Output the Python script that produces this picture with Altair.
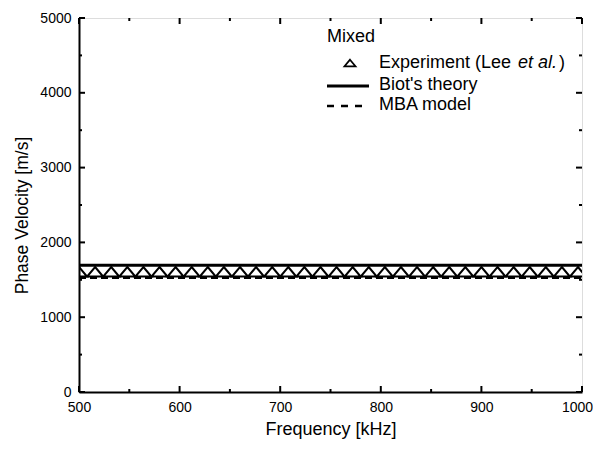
import altair as alt
import pandas as pd

# ---- data ----
exp_freq = [500, 516, 532, 548, 564, 580, 596, 612, 628, 644, 660, 676, 692, 708, 724, 740,
            756, 772, 788, 804, 820, 836, 852, 868, 884, 900, 916, 932, 948, 964, 980, 996]
exp_vel = [1607] * 32
biot_freq = [500, 1000]
biot_vel = [1693, 1693]
mba_freq = [500, 1000]
mba_vel = [1530, 1530]

x_major = [500, 600, 700, 800, 900, 1000]
x_minor = [550, 650, 750, 850, 950]
y_major = [0, 1000, 2000, 3000, 4000, 5000]
y_minor = [500, 1500, 2500, 3500, 4500]

W, H = 503, 374
FONT = "Liberation Sans"
TRI = "M0,-0.6L1,0.6L-1,0.6Z"

xs = alt.Scale(domain=[500, 1000], nice=False, zero=False)
ys = alt.Scale(domain=[0, 5000], nice=False)

x_axis = alt.Axis(title="Frequency [kHz]", values=x_major, format="d", ticks=False, grid=False,
                  labelFlush=False, labelFontSize=14, labelPadding=8, titleFontSize=18, titlePadding=6,
                  labelOffset=alt.ExprRef(expr="datum.value == 1000 ? -5 : 0"),
                  titleFontWeight="normal", labelFont=FONT, titleFont=FONT,
                  domainColor="black", domainWidth=2, labelColor="black", titleColor="black")
y_axis = alt.Axis(title="Phase Velocity [m/s]", values=y_major, format="d", ticks=False, grid=False,
                  labelFlush=False, labelFontSize=14, labelPadding=8, titleFontSize=17.5, titlePadding=8,
                  titleY=197,
                  titleFontWeight="normal", labelFont=FONT, titleFont=FONT,
                  domainColor="black", domainWidth=2, labelColor="black", titleColor="black")

biot = alt.Chart(pd.DataFrame({"f": biot_freq, "v": biot_vel})).mark_line(
    color="black", strokeWidth=3).encode(
    x=alt.X("f:Q", scale=xs, axis=x_axis),
    y=alt.Y("v:Q", scale=ys, axis=y_axis))

mba = alt.Chart(pd.DataFrame({"f": mba_freq, "v": mba_vel})).mark_line(
    color="black", strokeWidth=3, strokeDash=[7, 4]).encode(
    x=alt.X("f:Q", scale=xs), y=alt.Y("v:Q", scale=ys))

exp = alt.Chart(pd.DataFrame({"f": exp_freq, "v": exp_vel})).mark_point(
    shape=TRI, size=256, filled=False, color="black", strokeWidth=2, opacity=1, clip=True).encode(
    x=alt.X("f:Q", scale=xs), y=alt.Y("v:Q", scale=ys))

# inward ticks on all four sides
def yticks(vals, xpos, length):
    return alt.Chart(pd.DataFrame({"tv": vals})).mark_tick(
        color="black", thickness=2, size=length, opacity=1).encode(
        y=alt.Y("tv:Q", scale=ys), x=alt.value(xpos))

def xticks(vals, ypos, length):
    return alt.Chart(pd.DataFrame({"tf": vals})).mark_tick(
        color="black", thickness=2, size=length, opacity=1).encode(
        x=alt.X("tf:Q", scale=xs), y=alt.value(ypos))

ticks = [
    yticks(y_major, 3, 6), yticks(y_minor, 1.5, 3),
    yticks(y_major, W - 3, 6), yticks(y_minor, W - 1.5, 3),
    xticks(x_major, H - 3, 6), xticks(x_minor, H - 1.5, 3),
    xticks(x_major, 3, 6), xticks(x_minor, 1.5, 3),
]

# manual legend
def label(txt, x, y, size=18, style="normal", align="left"):
    return alt.Chart(pd.DataFrame({"t": [txt]})).mark_text(
        font=FONT, fontSize=size, fontStyle=style, align=align, baseline="middle", color="black").encode(
        x=alt.value(x), y=alt.value(y), text="t:N")

leg_tri = alt.Chart(pd.DataFrame({"t": ["tri"]})).mark_point(
    shape=TRI, size=120, filled=False, color="black", strokeWidth=1.8, opacity=1).encode(
    x=alt.value(271), y=alt.value(45))
leg_biot = alt.Chart(pd.DataFrame({"t": ["b"]})).mark_rule(color="black", strokeWidth=3).encode(
    x=alt.value(248), x2=alt.value(290), y=alt.value(68))
leg_mba = alt.Chart(pd.DataFrame({"t": ["m"]})).mark_rule(
    color="black", strokeWidth=2.5, strokeDash=[7, 7]).encode(
    x=alt.value(248), x2=alt.value(290), y=alt.value(88))

legend = [
    label("Mixed", 248, 19),
    leg_tri,
    label("Experiment (Lee", 300, 45),
    label("et al.", 439, 45, style="italic"),
    label(")", 480, 45),
    leg_biot,
    label("Biot's theory", 300, 67),
    leg_mba,
    label("MBA model", 300, 87),
]

chart = alt.layer(biot, mba, exp, *ticks, *legend).properties(
    width=W, height=H,
    padding={"left": 71, "top": 10, "right": 11, "bottom": 49},
    autosize=alt.AutoSizeParams(type="none"),
).configure_view(stroke="black", strokeWidth=2).configure(background="white")

chart.save("out.html", embed_options={"renderer": "svg", "actions": False})
